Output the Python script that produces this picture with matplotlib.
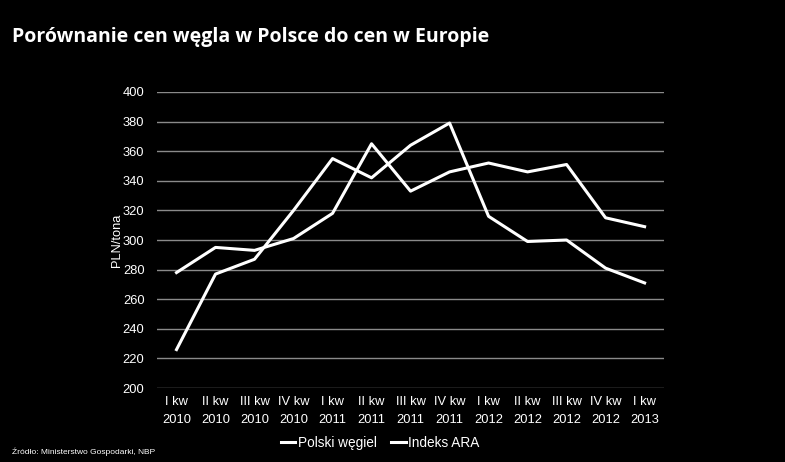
import matplotlib as mpl
mpl.use('agg')
import matplotlib.pyplot as plt

plt.rc('font', family=['Liberation Sans', 'DejaVu Sans'])

kwartaly = ["I kw\n2010", "II kw\n2010", "III kw\n2010", "IV kw\n2010",
            "I kw\n2011", "II kw\n2011", "III kw\n2011", "IV kw\n2011",
            "I kw\n2012", "II kw\n2012", "III kw\n2012", "IV kw\n2012",
            "I kw\n2013"]
polski_wegiel = [278, 295, 293, 301, 318, 365, 333, 346, 352, 346, 351, 315, 309]
indeks_ara = [226, 277, 287, 320, 355, 342, 364, 379, 316, 299, 300, 281, 271]
y_ticks = list(range(200, 401, 20))

fig = plt.figure(figsize=(7.85, 4.62), dpi=100, facecolor='black')
ax = fig.add_axes([0.2, 0.16, 0.646, 0.641], facecolor='black')

x = range(len(kwartaly))
ax.plot(x, polski_wegiel, color='white', lw=2.2, label='Polski węgiel')
ax.plot(x, indeks_ara, color='white', lw=2.2, label='Indeks ARA')

ax.set_xlim(-0.5, len(kwartaly) - 0.5)
ax.set_ylim(200, 400)
ax.set_yticks(y_ticks)
ax.set_xticks(list(x))
ax.set_xticklabels(kwartaly, linespacing=1.6)
ax.grid(axis='y', color='#8a8a8a', lw=1)
ax.set_axisbelow(True)
for s in ax.spines.values():
    s.set_visible(False)
ax.tick_params(colors='white', length=0, labelsize=9.3)
ax.tick_params(axis='y', pad=9)
ax.tick_params(axis='x', pad=6)
ax.set_ylabel("PLN/tona", color='white', fontsize=9.3, labelpad=0)

leg = ax.legend(loc='upper center', bbox_to_anchor=(0.44, -0.12), ncol=2,
                frameon=False, fontsize=9.8, handlelength=1.1, handletextpad=0.2,
                columnspacing=1.0)
for t in leg.get_texts():
    t.set_color('white')

fig.text(0.015, 0.91, "Porównanie cen węgla w Polsce do cen w Europie",
         color='white', fontsize=14, fontweight='bold',
         family=['Open Sans', 'DejaVu Sans'])
fig.text(0.015, 0.018, "Źródło: Ministerstwo Gospodarki, NBP", color='white',
         fontsize=6)

plt.savefig("out.png", facecolor='black')
